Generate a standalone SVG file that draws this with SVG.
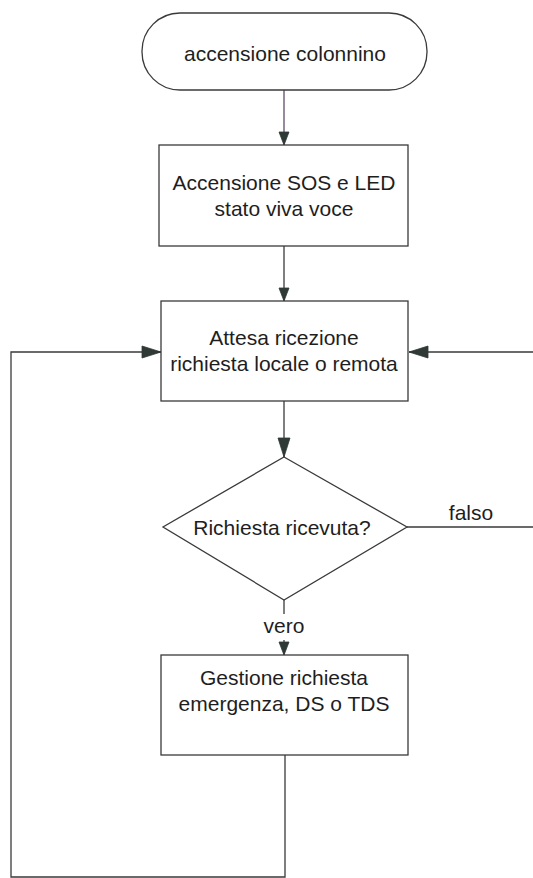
<svg xmlns="http://www.w3.org/2000/svg" width="533" height="878" viewBox="0 0 533 878">
  <style>
    .shape { fill: #ffffff; stroke: #3a3a3a; stroke-width: 1.3; }
    .label { font-family: "Liberation Sans", Arial, sans-serif; font-size: 21px; fill: #1e1e1e; text-anchor: middle; }
    .wire { fill: none; stroke: #3a3a3a; stroke-width: 1.3; }
    .head { fill: #2f3936; stroke: #2f3936; stroke-width: 0.8; stroke-linejoin: round; }
  </style>
  <defs>
    <marker id="arrow" viewBox="0 0 20 14" refX="20" refY="7" markerWidth="20" markerHeight="14" markerUnits="userSpaceOnUse" orient="auto">
      <path class="head" d="M1,1 L20,7 L1,13 Z"/>
    </marker>
    <marker id="arrowSmall" viewBox="0 0 14 12" refX="14" refY="6" markerWidth="14" markerHeight="12" markerUnits="userSpaceOnUse" orient="auto">
      <path class="head" d="M1,1 L14,6 L1,11 Z"/>
    </marker>
  </defs>

  <rect width="533" height="878" fill="#ffffff"/>

  <!-- connectors -->
  <g id="connectors">
    <path class="wire" d="M284,90 V145" style="stroke:#5e4a6e" marker-end="url(#arrowSmall)"/>
    <path class="wire" d="M284,246 V301" marker-end="url(#arrowSmall)"/>
    <path class="wire" d="M284,401 V457" marker-end="url(#arrow)"/>
    <path class="wire" d="M284,600 V614"/>
    <path class="wire" d="M284,640 V655" marker-end="url(#arrowSmall)"/>
    <path class="wire" d="M285,755 V877 H11 V352 H161" marker-end="url(#arrow)"/>
    <path class="wire" d="M407,527 H540 V352 H409" marker-end="url(#arrow)"/>
    <text class="label" x="471" y="520">falso</text>
    <text class="label" x="284" y="633" font-size="20">vero</text>
  </g>

  <!-- start terminator -->
  <g id="start">
    <rect class="shape" x="142" y="13" width="285" height="77" rx="38" ry="38"/>
    <text class="label" x="285" y="61" font-size="20">accensione colonnino</text>
  </g>

  <!-- power-on step -->
  <g id="power-on">
    <rect class="shape" x="159" y="145" width="249" height="101"/>
    <text class="label" x="284" y="190">Accensione SOS e LED</text>
    <text class="label" x="284" y="216">stato viva voce</text>
  </g>

  <!-- waiting step -->
  <g id="wait">
    <rect class="shape" x="161" y="301" width="247" height="100"/>
    <text class="label" x="284" y="345">Attesa ricezione</text>
    <text class="label" x="284" y="371">richiesta locale o remota</text>
  </g>

  <!-- decision -->
  <g id="decision">
    <polygon class="shape" points="284,457 407,527 284,600 163,527"/>
    <text class="label" x="282" y="535">Richiesta ricevuta?</text>
  </g>

  <!-- handling step -->
  <g id="handle">
    <rect class="shape" x="161" y="655" width="247" height="100"/>
    <text class="label" x="284" y="685">Gestione richiesta</text>
    <text class="label" x="284" y="711">emergenza, DS o TDS</text>
  </g>
</svg>
